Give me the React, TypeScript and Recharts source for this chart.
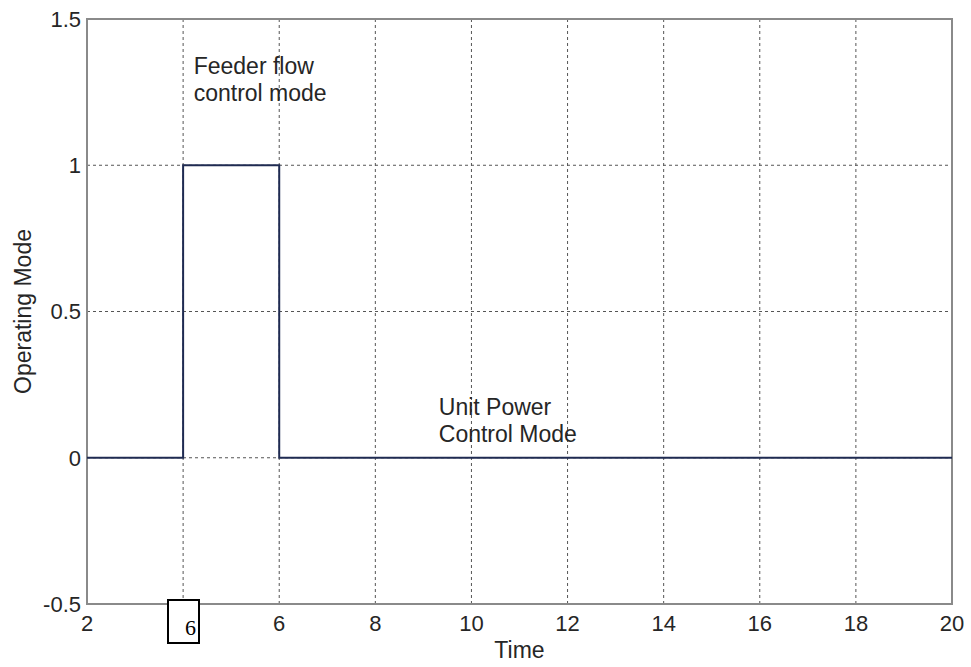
import React from "react";
import {
  LineChart,
  Line,
  XAxis,
  YAxis,
  CartesianGrid,
  ReferenceArea,
  ReferenceDot,
} from "recharts";

const timePoints = [2, 4, 4, 6, 6, 20];
const modeValues = [0, 0, 1, 1, 0, 0];
const xTicks = [2, 4, 6, 8, 10, 12, 14, 16, 18, 20];
const yTicks = [-0.5, 0, 0.5, 1, 1.5];
// the tick at 4 is covered by the boxed "6" in the figure
const hiddenXTick = 4;
const feederLabel = ["Feeder flow", "control mode"];
const unitLabel = ["Unit Power", "Control Mode"];

const FONT = '"Liberation Sans", Arial, sans-serif';
const TEXT = "#262626";

const chartData = timePoints.map((t, i) => ({ time: t, mode: modeValues[i] }));

function note(lines: string[]) {
  return (props: any) => (
    <text x={props.cx} y={props.cy} fontFamily={FONT} fontSize={23} fill={TEXT}>
      {lines.map((l, i) => (
        <tspan key={l} x={props.cx} dy={i === 0 ? 0 : 27}>
          {l}
        </tspan>
      ))}
    </text>
  );
}

export default function App() {
  return (
    <div style={{ position: "absolute", left: 0, top: 0, width: 971, height: 667, background: "#fff" }}>
      <LineChart
        width={971}
        height={667}
        data={chartData}
        margin={{ top: 19, right: 19, bottom: 0, left: 0 }}
      >
        <CartesianGrid stroke="#555" strokeDasharray="3 3" strokeWidth={1} />
        <XAxis
          dataKey="time"
          type="number"
          domain={[2, 20]}
          ticks={xTicks}
          height={63}
          axisLine={false}
          tickLine={false}
          tickSize={0}
          tickMargin={11}
          tickFormatter={(v: number) => (v === hiddenXTick ? "" : String(v))}
          tick={{ fontFamily: FONT, fontSize: 22, fill: TEXT }}
          label={{ value: "Time", position: "insideBottom", offset: 9, fontFamily: FONT, fontSize: 23, fill: TEXT }}
        />
        <YAxis
          type="number"
          domain={[-0.5, 1.5]}
          ticks={yTicks}
          width={87}
          axisLine={false}
          tickLine={false}
          tickSize={0}
          tickMargin={6}
          tick={{ fontFamily: FONT, fontSize: 22, fill: TEXT }}
          label={{
            content: (p: any) => {
              const vb = p.viewBox;
              const cx = vb.x + 31;
              const cy = vb.y + vb.height / 2;
              return (
                <text
                  x={cx}
                  y={cy}
                  transform={`rotate(-90 ${cx} ${cy})`}
                  textAnchor="middle"
                  fontFamily={FONT}
                  fontSize={23}
                  fill={TEXT}
                >
                  Operating Mode
                </text>
              );
            },
          }}
        />
        <ReferenceArea x1={2} x2={20} y1={-0.5} y2={1.5} fill="none" stroke="#8a8a8a" strokeWidth={2} />
        <Line
          type="linear"
          dataKey="mode"
          stroke="#1f2b52"
          strokeWidth={2}
          dot={false}
          isAnimationActive={false}
        />
        <ReferenceDot x={4.22} y={1.312} r={0} shape={note(feederLabel)} />
        <ReferenceDot x={9.32} y={0.146} r={0} shape={note(unitLabel)} />
      </LineChart>
      <div
        style={{
          position: "absolute",
          left: 167,
          top: 599,
          width: 29,
          height: 41,
          border: "2px solid #000",
          background: "#fff",
          fontFamily: '"Liberation Serif", "Times New Roman", serif',
          fontSize: 22,
          lineHeight: 1,
          color: "#000",
        }}
      >
        <span style={{ position: "absolute", left: 16, top: 16 }}>6</span>
      </div>
    </div>
  );
}
